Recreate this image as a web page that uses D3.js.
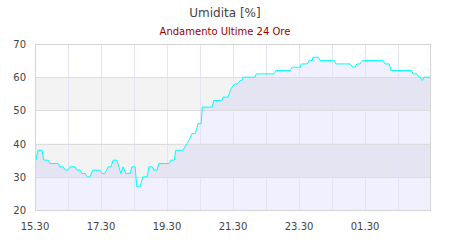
<!DOCTYPE html>
<meta charset="utf-8">
<style>
  body { margin: 0; background: #fff; }
  text { font-family: "DejaVu Sans", Verdana, sans-serif; }
</style>
<body>
<script src="https://cdn.jsdelivr.net/npm/d3@7"></script>
<script>

    // readings (time, humidity %)
    var times = ["15:30","15:32","15:35","15:43","15:46","15:54","15:57","16:12","16:15","16:21",
                 "16:25","16:30","16:34","16:43","16:46","16:52","16:55","17:01","17:05","17:10",
                 "17:15","17:28","17:32","17:37","17:43","17:48","17:52","17:59","18:06","18:10",
                 "18:15","18:23","18:26","18:32","18:35","18:41","18:46","18:54","18:57","19:03",
                 "19:06","19:12","19:15","19:34","19:37","19:43","19:46","19:59","20:06","20:10",
                 "20:15","20:21","20:25","20:26","20:32","20:34","20:52","20:55","21:10","21:12",
                 "21:21","21:25","21:28","21:34","21:39","21:43","21:46","21:48","22:10","22:12",
                 "22:45","22:48","23:14","23:17","23:32","23:34","23:45","23:48","23:54","23:55",
                 "00:05","00:08","00:34","00:37","01:03","01:08","01:12","01:15","01:21","01:25",
                 "02:03","02:06","02:14","02:17","02:55","02:57","03:04","03:08","03:10","03:14",
                 "03:17","03:28"];
    var values = [35,35,38,38,35,35,34,34,33,33,
                  32,32,33,33,32,32,31,31,30,30,
                  32,32,31,31,33,33,35,35,31,33,
                  31,31,33,33,27,27,30,30,33,33,
                  32,32,34,34,35,35,38,38,40,41,
                  43,43,45,46,46,51,51,53,53,54,
                  54,56,57,58,58,59,59,60,60,61,
                  61,62,62,63,63,64,64,65,65,66,
                  66,65,65,64,64,63,63,64,64,65,
                  65,64,64,62,62,61,61,60,60,59,
                  60,60];

    var xTickLabels = ["15.30","17.30","19.30","21.30","23.30","01.30"];
    var yTicks = [20,30,40,50,60,70];
    var bands = [[30,40],[50,60]];

    var w = 450, h = 240;
    var mLeft = 35, mRight = 430, mTop = 44, mBottom = 210;

    var start = new Date(2024, 0, 1, 15, 30);
    var end = new Date(2024, 0, 2, 3, 28);

    function parseT(s) {
        var p = s.split(":").map(Number);
        var d = new Date(2024, 0, 1, p[0], p[1]);
        if (p[0] < 12) d = d3.timeDay.offset(d, 1);
        return d;
    }

    var data = times.map(function(t, i) { return {t: parseT(t), v: values[i]}; });

    var x = d3.scaleTime().domain([start, end]).range([mLeft, mRight]);
    var y = d3.scaleLinear().domain([20, 70]).range([mBottom, mTop]);

    var svg = d3.select("body")
            .append("svg")
            .attr("width", w)
            .attr("height", h);

    svg.append("text")
            .attr("x", w / 2).attr("y", 17)
            .attr("text-anchor", "middle")
            .attr("font-size", 12)
            .attr("fill", "#444")
            .text("Umidita [%]");

    svg.append("text")
            .attr("x", w / 2).attr("y", 35)
            .attr("text-anchor", "middle")
            .attr("font-size", 10)
            .attr("fill", "#990000")
            .text("Andamento Ultime 24 Ore");

    // bands
    svg.selectAll("rect.band")
            .data(bands)
            .enter()
            .append("rect")
            .attr("class", "band")
            .attr("x", mLeft)
            .attr("width", mRight - mLeft)
            .attr("y", function(d) { return y(d[1]); })
            .attr("height", function(d) { return y(d[0]) - y(d[1]); })
            .attr("fill", "#f3f3f3");

    // area under line
    var area = d3.area()
            .x(function(d) { return x(d.t); })
            .y0(mBottom)
            .y1(function(d) { return y(d.v); });

    svg.append("path")
            .datum(data)
            .attr("d", area)
            .attr("fill", "#0000ff")
            .attr("fill-opacity", 0.06);

    // vertical grid, every hour
    var gridTimes = d3.range(1, 12).map(function(k) { return d3.timeHour.offset(start, k); });
    svg.selectAll("line.vg")
            .data(gridTimes)
            .enter()
            .append("line")
            .attr("class", "vg")
            .attr("x1", function(d) { return Math.round(x(d)) + 0.5; })
            .attr("x2", function(d) { return Math.round(x(d)) + 0.5; })
            .attr("y1", mTop)
            .attr("y2", mBottom)
            .attr("stroke", "#e4e4f8")
            .attr("shape-rendering", "crispEdges");

    // horizontal grid
    svg.selectAll("line.hg")
            .data(yTicks)
            .enter()
            .append("line")
            .attr("class", "hg")
            .attr("x1", mLeft)
            .attr("x2", mRight)
            .attr("y1", function(d) { return Math.round(y(d)) + 0.5; })
            .attr("y2", function(d) { return Math.round(y(d)) + 0.5; })
            .attr("stroke", "#dcdcdc")
            .attr("shape-rendering", "crispEdges");

    // data line
    var line = d3.line()
            .x(function(d) { return x(d.t); })
            .y(function(d) { return y(d.v); });

    svg.append("path")
            .datum(data)
            .attr("d", line)
            .attr("fill", "none")
            .attr("stroke", "#00ffff")
            .attr("stroke-width", 1);

    // frame
    svg.append("rect")
            .attr("x", mLeft + 0.5).attr("y", mTop + 0.5)
            .attr("width", mRight - mLeft).attr("height", mBottom - mTop)
            .attr("fill", "none")
            .attr("stroke", "#d4d4d4")
            .attr("shape-rendering", "crispEdges");

    // y labels
    svg.selectAll("text.yl")
            .data(yTicks)
            .enter()
            .append("text")
            .attr("class", "yl")
            .attr("x", 26)
            .attr("y", function(d) { return y(d) + 4; })
            .attr("text-anchor", "end")
            .attr("font-size", 10)
            .attr("fill", "#444")
            .text(function(d) { return d; });

    // x labels, every two hours
    svg.selectAll("text.xl")
            .data(xTickLabels)
            .enter()
            .append("text")
            .attr("class", "xl")
            .attr("x", function(d, i) { return x(d3.timeHour.offset(start, i * 2)); })
            .attr("y", 230)
            .attr("text-anchor", "middle")
            .attr("font-size", 10)
            .attr("fill", "#444")
            .text(function(d) { return d; });

</script>
